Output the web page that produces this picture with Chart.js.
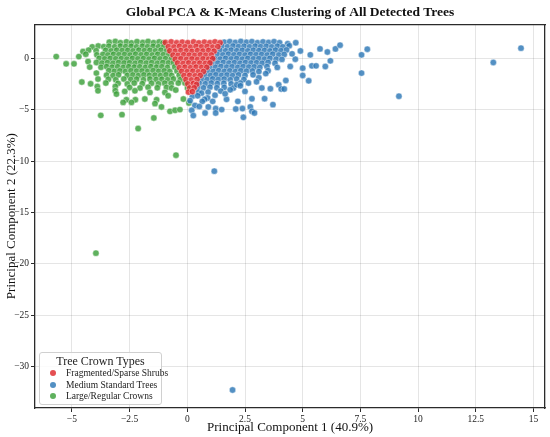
<!DOCTYPE html>
<html>
<head>
<meta charset="utf-8">
<script src="https://cdn.jsdelivr.net/npm/chart.js@4/dist/chart.umd.min.js"></script>
<style>
  html, body { margin: 0; padding: 0; background: #fff; }
  #wrap { position: relative; width: 550px; height: 437px; }
  #legend {
    position: absolute; left: 39px; top: 352px; width: 121px; height: 51px;
    border: 1px solid #d0d0d0; border-radius: 3px; background: rgba(255,255,255,0.85);
    font-family: "Liberation Serif", serif; color: #222;
  }
  #legend .ttl { text-align: center; font-size: 12px; margin-top: 1px; line-height: 14px; }
  #legend .item { font-size: 9.5px; line-height: 11.5px; height: 11.5px; padding-left: 10px; white-space: nowrap; }
  #legend .dot { display: inline-block; width: 6px; height: 6px; border-radius: 50%; margin-right: 10px; vertical-align: 0px; }
</style>
</head>
<body>
<div id="wrap">
  <canvas id="myChart" width="550" height="437"></canvas>
  <div id="legend"></div>
</div>
<script>
const clusterNames = ["Fragmented/Sparse Shrubs", "Medium Standard Trees", "Large/Regular Crowns"];
const xTicks = [-5, -2.5, 0, 2.5, 5, 7.5, 10, 12.5, 15];
const yTicks = [-30, -25, -20, -15, -10, -5, 0];

// cluster 0 (PC1, PC2)
const shrubPoints = [
  [-0.95,1.52],[-0.7,1.58],[-0.46,1.49],[-0.22,1.55],[0.02,1.5],[0.27,1.57],[0.5,1.48],[0.74,1.55],[0.98,1.5],[1.2,1.58],[1.42,1.5],
  [-0.82,1.12],[-0.58,1.08],[-0.34,1.15],[-0.1,1.1],[0.14,1.06],[0.38,1.14],[0.62,1.09],[0.86,1.13],[1.1,1.07],[1.32,1.12],
  [-0.76,0.72],[-0.52,0.68],[-0.28,0.74],[-0.04,0.7],[0.2,0.66],[0.44,0.73],[0.68,0.69],[0.92,0.75],[1.16,0.68],
  [-0.62,0.3],[-0.4,0.27],[-0.16,0.33],[0.08,0.29],[0.32,0.26],[0.56,0.32],[0.8,0.28],[1.04,0.31],
  [-0.52,-0.1],[-0.28,-0.06],[-0.04,-0.12],[0.2,-0.08],[0.44,-0.13],[0.68,-0.07],[0.92,-0.11],[1.1,-0.05],
  [-0.42,-0.48],[-0.18,-0.52],[0.06,-0.47],[0.3,-0.53],[0.54,-0.49],[0.78,-0.51],[0.98,-0.46],
  [-0.34,-0.92],[-0.1,-0.88],[0.14,-0.93],[0.38,-0.87],[0.62,-0.91],[0.84,-0.89],
  [-0.24,-1.28],[0.0,-1.32],[0.24,-1.27],[0.48,-1.33],[0.7,-1.29],
  [-0.14,-1.7],[0.1,-1.67],[0.34,-1.72],[0.56,-1.68],
  [-0.06,-2.08],[0.18,-2.12],[0.42,-2.07],
  [0.02,-2.5],[0.26,-2.47],[0.4,-2.55],
  [0.1,-2.9],[0.3,-2.88],[0.05,-3.3],[0.22,-3.25]
];

// cluster 1
const mediumPoints = [
  [1.6,1.55],[1.84,1.6],[2.08,1.52],[2.32,1.62],[2.56,1.54],[2.8,1.6],[3.04,1.5],[3.28,1.58],[3.52,1.52],[3.76,1.6],[4.0,1.5],[4.35,1.4],[4.7,1.5],
  [1.5,1.15],[1.74,1.1],[1.98,1.18],[2.22,1.12],[2.46,1.16],[2.7,1.1],[2.94,1.17],[3.18,1.11],[3.42,1.15],[3.66,1.09],[3.9,1.16],[4.14,1.1],[4.42,1.2],
  [1.42,0.75],[1.66,0.71],[1.9,0.78],[2.14,0.72],[2.38,0.76],[2.62,0.7],[2.86,0.77],[3.1,0.73],[3.34,0.75],[3.58,0.7],[3.82,0.78],[4.06,0.72],[4.3,0.8],
  [1.3,0.35],[1.54,0.31],[1.78,0.38],[2.02,0.32],[2.26,0.36],[2.5,0.3],[2.74,0.37],[2.98,0.33],[3.22,0.35],[3.46,0.3],[3.7,0.38],[3.96,0.3],[4.2,0.36],
  [1.18,-0.05],[1.42,-0.09],[1.66,-0.02],[1.9,-0.08],[2.14,-0.04],[2.38,-0.1],[2.62,-0.03],[2.86,-0.07],[3.1,-0.05],[3.34,-0.1],[3.58,-0.02],[3.85,-0.1],[4.1,-0.12],
  [1.08,-0.45],[1.32,-0.49],[1.56,-0.42],[1.8,-0.48],[2.04,-0.44],[2.28,-0.5],[2.52,-0.43],[2.76,-0.47],[3.0,-0.45],[3.24,-0.5],[3.5,-0.42],[3.8,-0.5],
  [0.98,-0.85],[1.22,-0.89],[1.46,-0.82],[1.7,-0.88],[1.94,-0.84],[2.18,-0.9],[2.42,-0.83],[2.66,-0.87],[2.9,-0.85],[3.14,-0.9],[3.45,-0.82],[3.9,-0.9],
  [0.88,-1.25],[1.12,-1.29],[1.36,-1.22],[1.6,-1.28],[1.84,-1.24],[2.08,-1.3],[2.32,-1.23],[2.56,-1.27],[2.82,-1.25],[3.1,-1.3],[3.5,-1.22],
  [0.76,-1.65],[1.0,-1.69],[1.24,-1.62],[1.48,-1.68],[1.72,-1.64],[1.96,-1.7],[2.22,-1.63],[2.5,-1.68],[2.85,-1.62],[3.4,-1.5],
  [0.62,-2.05],[0.86,-2.09],[1.1,-2.02],[1.34,-2.08],[1.6,-2.04],[1.86,-2.1],[2.14,-2.03],[2.45,-2.08],[3.1,-1.9],
  [0.52,-2.45],[0.78,-2.49],[1.04,-2.42],[1.3,-2.48],[1.58,-2.44],[1.9,-2.5],[2.3,-2.42],[3.0,-2.3],
  [0.45,-2.85],[0.7,-2.89],[0.98,-2.82],[1.28,-2.88],[1.6,-2.84],[2.0,-2.9],
  [0.48,-3.3],[0.62,-3.4],[0.9,-3.3],[1.2,-3.6],[1.45,-3.2],[0.22,-3.7],[0.45,-3.65],[0.88,-3.87],[0.75,-4.0],[1.1,-4.2],[1.7,-4.0],
  [0.12,-4.13],[0.33,-4.6],[0.65,-4.2],[0.52,-4.7],[0.91,-4.74],[0.19,-5.07],[0.26,-5.58],[0.77,-5.33],[1.23,-4.9],[1.23,-5.33],[1.49,-5.0],
  [1.64,-3.46],[1.86,-3.07],[2.14,-2.58],[2.3,-2.68],[2.5,-3.23],[2.65,-2.42],[2.1,-4.94],[2.19,-4.2],[2.39,-4.9],[2.43,-5.75],
  [2.73,-4.74],[2.8,-5.17],[2.91,-5.33],[2.8,-3.94],[3.23,-2.9],[3.6,-2.97],[3.35,-3.94],[3.71,-4.52],[3.96,-2.58],[4.07,-3.0],[4.2,-3.0],
  [4.27,-2.17],[4.46,-0.81],[4.68,-0.1],[4.54,0.42],[4.9,0.7],[5.0,-0.97],[5.0,-1.68],[5.26,-2.2],[5.33,0.32],[5.4,-0.75],[5.58,-0.75],
  [5.75,0.9],[5.98,-0.81],[6.07,0.6],[6.2,-0.26],[6.42,0.9],[6.62,1.26],[7.55,0.32],[7.55,-1.45],[7.8,0.87],
  [9.17,-3.7],[13.26,-0.42],[14.46,0.97],[1.17,-10.98],[1.96,-32.25]
];

// cluster 2
const largePoints = [
  [-3.38,1.55],[-3.12,1.62],[-2.9,1.5],[-2.64,1.58],[-2.42,1.48],[-2.18,1.6],[-1.93,1.52],[-1.7,1.62],[-1.46,1.5],[-1.22,1.57],[-1.05,1.48],
  [-4.12,1.1],[-3.86,1.18],[-3.62,1.12],[-3.4,1.16],[-3.15,1.1],[-2.9,1.17],[-2.67,1.12],[-2.43,1.15],[-2.2,1.09],[-1.95,1.16],[-1.72,1.11],[-1.48,1.15],[-1.25,1.1],[-1.02,1.14],
  [-4.52,0.64],[-4.28,0.78],[-3.95,0.72],[-3.54,0.76],[-3.3,0.7],[-3.06,0.77],[-2.82,0.73],[-2.58,0.75],[-2.35,0.7],[-2.1,0.78],[-1.86,0.72],[-1.62,0.76],[-1.38,0.7],[-1.14,0.77],[-0.9,0.73],
  [-4.7,0.15],[-4.4,0.38],[-3.92,0.32],[-3.66,0.36],[-3.44,0.3],[-3.2,0.37],[-2.96,0.33],[-2.72,0.35],[-2.48,0.3],[-2.24,0.38],[-2.0,0.32],[-1.76,0.36],[-1.52,0.3],[-1.28,0.37],[-1.04,0.33],[-0.8,0.35],
  [-4.3,-0.33],[-3.82,-0.02],[-3.58,-0.08],[-3.34,-0.03],[-3.1,-0.07],[-2.86,-0.05],[-2.62,-0.1],[-2.38,-0.03],[-2.14,-0.07],[-1.9,-0.04],[-1.66,-0.09],[-1.42,-0.02],[-1.18,-0.08],[-0.94,-0.05],[-0.7,-0.1],
  [-3.94,-0.42],[-3.7,-0.48],[-3.46,-0.44],[-3.22,-0.5],[-2.98,-0.43],[-2.74,-0.47],[-2.5,-0.45],[-2.26,-0.5],[-2.02,-0.42],[-1.78,-0.48],[-1.54,-0.44],[-1.3,-0.5],[-1.06,-0.43],[-0.82,-0.47],[-0.6,-0.45],
  [-4.23,-0.87],[-3.74,-0.89],[-3.5,-0.82],[-3.26,-0.88],[-3.02,-0.84],[-2.78,-0.9],[-2.54,-0.83],[-2.3,-0.87],[-2.06,-0.85],[-1.82,-0.9],[-1.58,-0.82],[-1.34,-0.88],[-1.1,-0.84],[-0.86,-0.9],[-0.55,-0.85],
  [-3.94,-1.45],[-3.4,-1.22],[-3.16,-1.28],[-2.92,-1.24],[-2.68,-1.3],[-2.44,-1.23],[-2.2,-1.27],[-1.96,-1.25],[-1.72,-1.3],[-1.48,-1.22],[-1.24,-1.28],[-1.0,-1.24],[-0.76,-1.3],[-0.45,-1.25],
  [-3.5,-1.65],[-3.22,-1.7],[-2.98,-1.62],[-2.6,-1.68],[-2.36,-1.64],[-2.12,-1.7],[-1.88,-1.63],[-1.64,-1.67],[-1.4,-1.65],[-1.16,-1.7],[-0.92,-1.62],[-0.68,-1.68],[-0.35,-1.65],
  [-3.87,-2.03],[-3.42,-2.05],[-3.1,-2.1],[-2.75,-2.02],[-2.45,-2.08],[-2.2,-2.04],[-1.9,-2.1],[-1.62,-2.03],[-1.35,-2.07],[-1.1,-2.05],[-0.85,-2.1],[-0.6,-2.02],[-0.3,-2.08],[-0.1,-2.42],
  [-3.53,-2.42],[-3.0,-2.45],[-2.6,-2.5],[-2.3,-2.42],[-1.95,-2.48],[-1.55,-2.44],[-1.25,-2.5],[-0.98,-2.43],[-0.7,-2.47],[-0.39,-2.42],
  [-3.9,-2.75],[-3.12,-2.75],[-2.5,-2.85],[-2.05,-2.9],[-1.7,-2.82],[-1.3,-2.88],[-0.9,-2.84],[-0.68,-2.9],[0.01,-2.9],
  [-3.87,-3.17],[-3.12,-3.17],[-2.71,-3.23],[-2.27,-3.17],[-1.62,-3.33],[-0.97,-3.33],[-0.5,-3.1],
  [-3.07,-3.49],[-2.64,-4.04],[-2.25,-4.04],[-2.78,-4.3],[-2.42,-4.3],[-1.84,-3.97],[-1.33,-4.04],[-1.12,-4.74],[-1.4,-4.42],
  [-0.83,-3.65],[-0.75,-5.17],[-0.53,-5.07],[-0.32,-5.0],[-0.17,-3.97],[0.07,-4.36],
  [-5.68,0.15],[-5.25,-0.55],[-4.91,-0.55],[-4.57,-2.32],[-4.19,-2.49],[-3.75,-5.56],[-2.83,-5.49],[-2.13,-6.84],[-1.45,-5.81],
  [-0.49,-9.43],[-3.96,-18.95]
];

const clusterPoints = [shrubPoints, mediumPoints, largePoints];
const clusterColors = ["rgba(222,40,44,0.82)", "rgba(45,120,182,0.82)", "rgba(60,160,58,0.82)"];

const serif = "'Liberation Serif', 'Times New Roman', serif";
const spineColor = "#2b2b2b";
const spineWidth = 1.3;
const xRange = { min: -6.6, max: 15.5 };
const yRange = { min: -34, max: 3.3 };

function tickText(v) {
  return v < 0 ? "\u2212" + Math.abs(v) : String(v);
}

const gridOpts = {
  color: "rgba(0,0,0,0.13)",
  lineWidth: 0.8,
  borderDash: [2.5, 2.5],
  tickColor: spineColor,
  tickBorderDash: [0, 0],
  tickLength: 4,
  tickWidth: 1
};

// top / right spines: empty axes that only draw their border line
const spineAxis = (position, range, fit) => ({
  type: "linear",
  position: position,
  min: range.min,
  max: range.max,
  ticks: { display: false },
  grid: { display: false, drawTicks: false },
  border: { display: true, color: spineColor, width: spineWidth, z: 1 },
  afterFit: fit
});

const ctx = document.getElementById("myChart").getContext("2d");
new Chart(ctx, {
  type: "scatter",
  data: {
    datasets: clusterNames.map((name, i) => ({
      label: name,
      data: clusterPoints[i].map(p => ({ x: p[0], y: p[1] })),
      backgroundColor: clusterColors[i],
      borderColor: "rgba(255,255,255,0.85)",
      borderWidth: 0.5,
      pointRadius: 3.2
    }))
  },
  options: {
    responsive: false,
    animation: false,
    devicePixelRatio: 1,
    layout: { padding: { left: 0, right: 5, top: 0, bottom: 0 } },
    plugins: {
      legend: { display: false },
      tooltip: { enabled: false },
      title: {
        display: true,
        fullSize: false,
        text: "Global PCA & K-Means Clustering of All Detected Trees",
        color: "#111",
        font: { family: serif, size: 13.5, weight: "bold" },
        padding: { top: 4, bottom: 4 }
      }
    },
    scales: {
      x: {
        type: "linear",
        min: xRange.min,
        max: xRange.max,
        afterBuildTicks: s => { s.ticks = xTicks.map(v => ({ value: v })); },
        afterFit: s => { s.height = 29; },
        grid: gridOpts,
        border: { display: true, color: spineColor, width: spineWidth },
        ticks: {
          callback: v => tickText(v),
          color: "#222",
          font: { family: serif, size: 9.5 },
          padding: 2,
          maxRotation: 0,
          autoSkip: false
        },
        title: {
          display: true,
          text: "Principal Component 1 (40.9%)",
          color: "#111",
          font: { family: serif, size: 13 },
          padding: { top: 0, bottom: 2 }
        }
      },
      y: {
        type: "linear",
        min: yRange.min,
        max: yRange.max,
        afterBuildTicks: s => { s.ticks = yTicks.map(v => ({ value: v })); },
        afterFit: s => { s.width = 35; },
        grid: gridOpts,
        border: { display: true, color: spineColor, width: spineWidth },
        ticks: {
          callback: v => tickText(v),
          color: "#222",
          font: { family: serif, size: 9.5 },
          padding: 2,
          autoSkip: false
        },
        title: {
          display: true,
          text: "Principal Component 2 (22.3%)",
          color: "#111",
          font: { family: serif, size: 13 },
          padding: { top: 4, bottom: 0 }
        }
      },
      xTop: spineAxis("top", xRange, s => { s.height = 0; }),
      yRight: spineAxis("right", yRange, s => { s.width = 0; })
    }
  }
});

// legend box in the lower left of the plot
const legendEl = document.getElementById("legend");
let html = '<div class="ttl">Tree Crown Types</div>';
clusterNames.forEach((name, i) => {
  html += '<div class="item"><span class="dot" style="background:' + clusterColors[i] + '"></span>' + name + '</div>';
});
legendEl.innerHTML = html;
</script>
</body>
</html>
